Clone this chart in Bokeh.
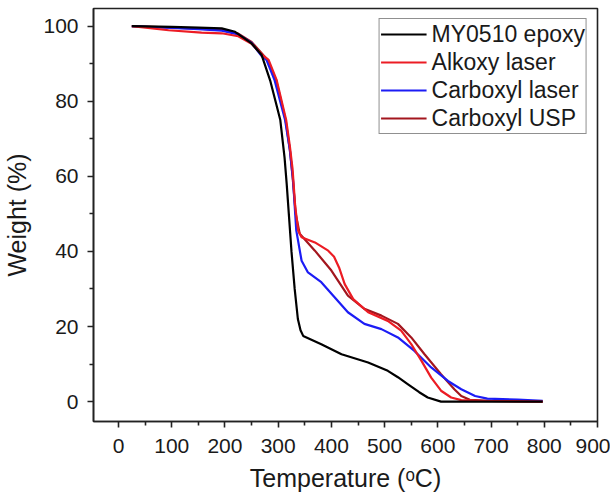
from bokeh.plotting import figure
from bokeh.models import FixedTicker, Legend, LegendItem, Range1d
from bokeh.embed import file_html
from bokeh.resources import INLINE

# MY0510 epoxy
t_black = [25, 100, 150, 194, 219, 250, 269, 285, 295, 304, 312, 316, 320, 325, 331, 337, 342, 347,
           381, 419, 469, 506, 525, 544, 565, 581, 606, 650, 797]
w_black = [100, 99.8, 99.6, 99.4, 98.5, 95.4, 92.3, 85.5, 80.0, 75.0, 65.0, 58.0, 50.0, 40.0, 30.0, 22.0, 19.0, 17.5,
           15.3, 12.6, 10.4, 8.2, 6.5, 4.6, 2.5, 1.1, 0.0, 0.0, 0.0]

# Alkoxy laser
t_red = [25, 94, 156, 194, 225, 250, 269, 282, 297, 315, 322, 327, 332, 337.5, 344, 369, 394, 405, 415, 425,
         441, 469, 506, 531, 550, 569, 587.5, 606, 625, 644, 680, 797]
w_red = [100, 98.9, 98.3, 98.1, 97.3, 95.3, 92.5, 91.0, 85.7, 75.0, 68.0, 62.0, 52.0, 45.6, 43.8, 42.4, 40.2, 38.6, 35.5, 31.3,
         27.3, 23.8, 21.5, 18.9, 15.3, 10.9, 6.4, 2.9, 1.1, 0.4, 0.2, 0.0]

# Carboxyl laser
t_blue = [25, 100, 150, 194, 225, 250, 269, 278, 293, 313, 322, 328, 334, 344, 356, 381, 406, 431, 462,
          494, 525, 556, 587.5, 619, 644, 670, 693, 750, 797]
w_blue = [100, 99.5, 99.2, 98.8, 97.8, 95.5, 92.0, 91.0, 85.7, 75.0, 67.0, 58.9, 45.6, 37.5, 34.4, 31.8, 27.8, 23.8, 20.7,
          19.3, 17.1, 13.5, 9.1, 5.5, 3.3, 1.5, 0.8, 0.5, 0.2]

# Carboxyl USP
t_dred = [25, 100, 150, 194, 225, 250, 269, 280, 296, 314, 322, 327, 333, 340.5, 369, 400, 431, 462,
          494, 525, 550, 575, 606, 631, 644, 660, 700, 797]
w_dred = [100, 99.6, 99.3, 99.0, 98.0, 95.8, 92.8, 91.0, 85.7, 75.0, 67.0, 60.0, 50.0, 44.7, 40.2, 34.9, 28.2, 24.7,
          22.9, 20.7, 17.1, 12.6, 7.3, 3.3, 1.5, 0.5, 0.2, 0.0]

series_names = ["MY0510 epoxy", "Alkoxy laser", "Carboxyl laser", "Carboxyl USP"]
x_ticks = [0, 100, 200, 300, 400, 500, 600, 700, 800, 900]
x_minor = [-50, 50, 150, 250, 350, 450, 550, 650, 750, 850]
y_ticks = [0, 20, 40, 60, 80, 100]
y_minor = [10, 30, 50, 70, 90]

FONT = "Liberation Sans"
TXT = "#1a1a1a"

p = figure(width=610, height=497, output_backend="svg", toolbar_location=None,
           x_range=Range1d(-47, 900), y_range=Range1d(-5.3, 104.7),
           min_border_left=92, min_border_right=13, min_border_top=8, min_border_bottom=76)

p.xgrid.visible = False
p.ygrid.visible = False
p.outline_line_color = "#222222"
p.outline_line_width = 1.6
p.background_fill_color = "white"
p.border_fill_color = "white"

p.xaxis.ticker = FixedTicker(ticks=x_ticks, minor_ticks=x_minor)
p.yaxis.ticker = FixedTicker(ticks=y_ticks, minor_ticks=y_minor)
for ax in (p.xaxis, p.yaxis):
    ax.axis_line_color = "#222222"
    ax.axis_line_width = 1.6
    ax.major_tick_line_color = "#222222"
    ax.major_tick_line_width = 1.6
    ax.minor_tick_line_color = "#222222"
    ax.minor_tick_line_width = 1.6
    ax.major_tick_out = 6
    ax.major_tick_in = 0
    ax.minor_tick_out = 4
    ax.minor_tick_in = 0
    ax.major_label_text_font = FONT
    ax.major_label_text_font_size = "21px"
    ax.major_label_text_color = TXT
    ax.axis_label_text_font = FONT
    ax.axis_label_text_font_size = "25px"
    ax.axis_label_text_font_style = "normal"
    ax.axis_label_text_color = TXT
p.xaxis.axis_label = "Temperature (ᵒC)"
p.yaxis.axis_label = "Weight (%)"
p.xaxis.major_label_standoff = 11
p.xaxis.axis_label_standoff = 8
p.yaxis.major_label_standoff = 9
p.yaxis.axis_label_standoff = 9

colors = ["#000000", "#ec1c24", "#1c1cf5", "#a3161e"]
datasets = [(t_black, w_black), (t_red, w_red), (t_blue, w_blue), (t_dred, w_dred)]
rmap = {}
for i in [3, 2, 1, 0]:
    t, w = datasets[i]
    rmap[i] = p.line(t, w, line_color=colors[i], line_width=2.2)

legend = Legend(items=[LegendItem(label=series_names[i], renderers=[rmap[i]]) for i in range(4)],
                location="top_right")
legend.border_line_color = "#222222"
legend.border_line_width = 1.2
legend.label_text_font = FONT
legend.label_text_font_size = "23px"
legend.label_text_color = TXT
legend.glyph_width = 46
legend.glyph_height = 28
legend.label_height = 28
legend.label_standoff = 5
legend.spacing = 0
legend.padding = 1
legend.margin = 10
legend.background_fill_alpha = 1
p.add_layout(legend)

open("out.html", "w").write(file_html(p, INLINE))
